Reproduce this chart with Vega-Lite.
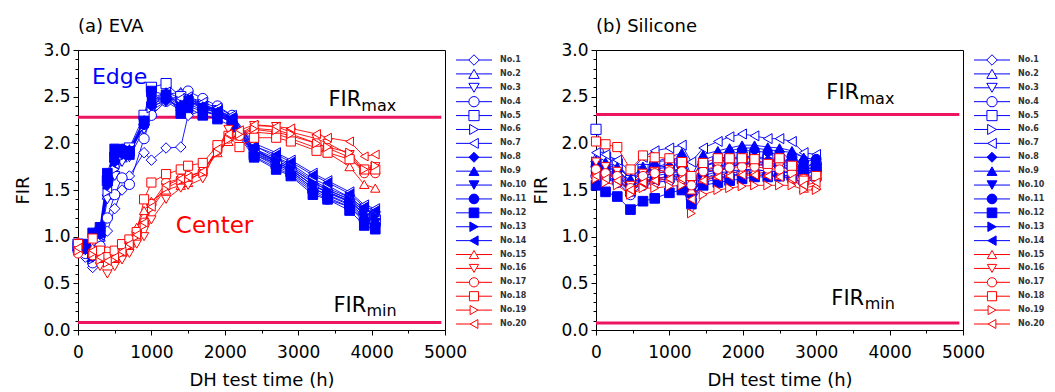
{
"$schema": "https://vega.github.io/schema/vega-lite/v6.json",
"background": "white",
"padding": {"left": 14, "top": 17, "right": 5, "bottom": 0},
"bounds": "flush",
"spacing": 11,
"config": {"font": "DejaVu Sans", "view": {"stroke": "black", "strokeWidth": 1}, "axis": {"grid": false, "domainColor": "black", "tickColor": "black", "labelColor": "black", "titleColor": "black", "titleFontWeight": "normal", "labelFlush": false, "labelOverlap": false}},
"datasets": {
"lima": [{"v": 2.28}, {"v": 0.08}],
"limb": [{"v": 2.31}, {"v": 0.075}],
"leg": [{"s":1,"lab":"No.1"},{"s":2,"lab":"No.2"},{"s":3,"lab":"No.3"},{"s":4,"lab":"No.4"},{"s":5,"lab":"No.5"},{"s":6,"lab":"No.6"},{"s":7,"lab":"No.7"},{"s":8,"lab":"No.8"},{"s":9,"lab":"No.9"},{"s":10,"lab":"No.10"},{"s":11,"lab":"No.11"},{"s":12,"lab":"No.12"},{"s":13,"lab":"No.13"},{"s":14,"lab":"No.14"},{"s":15,"lab":"No.15"},{"s":16,"lab":"No.16"},{"s":17,"lab":"No.17"},{"s":18,"lab":"No.18"},{"s":19,"lab":"No.19"},{"s":20,"lab":"No.20"}],
"a": [
{"s":1,"t":0,"v":0.85},{"s":1,"t":100,"v":0.78},{"s":1,"t":200,"v":0.67},{"s":1,"t":300,"v":0.85},{"s":1,"t":400,"v":1.06},{"s":1,"t":500,"v":1.3},{"s":1,"t":600,"v":1.5},{"s":1,"t":700,"v":1.65},{"s":1,"t":900,"v":1.9},{"s":1,"t":1000,"v":1.82},{"s":1,"t":1200,"v":1.95},{"s":1,"t":1400,"v":1.96},{"s":1,"t":1500,"v":2.3},{"s":1,"t":1700,"v":2.35},{"s":1,"t":1900,"v":2.3},{"s":1,"t":2100,"v":2.22},{"s":1,"t":2400,"v":1.9},{"s":1,"t":2700,"v":1.8},{"s":1,"t":2900,"v":1.72},{"s":1,"t":3200,"v":1.55},{"s":1,"t":3400,"v":1.48},{"s":1,"t":3700,"v":1.38},{"s":1,"t":3900,"v":1.25},{"s":1,"t":4050,"v":1.2},
{"s":2,"t":0,"v":0.9},{"s":2,"t":100,"v":0.88},{"s":2,"t":200,"v":0.78},{"s":2,"t":300,"v":1.0},{"s":2,"t":400,"v":1.45},{"s":2,"t":500,"v":1.7},{"s":2,"t":600,"v":1.85},{"s":2,"t":700,"v":1.92},{"s":2,"t":900,"v":2.25},{"s":2,"t":1000,"v":2.4},{"s":2,"t":1200,"v":2.52},{"s":2,"t":1400,"v":2.55},{"s":2,"t":1500,"v":2.5},{"s":2,"t":1700,"v":2.42},{"s":2,"t":1900,"v":2.36},{"s":2,"t":2100,"v":2.28},{"s":2,"t":2400,"v":1.98},{"s":2,"t":2700,"v":1.85},{"s":2,"t":2900,"v":1.78},{"s":2,"t":3200,"v":1.62},{"s":2,"t":3400,"v":1.55},{"s":2,"t":3700,"v":1.42},{"s":2,"t":3900,"v":1.3},{"s":2,"t":4050,"v":1.25},
{"s":3,"t":0,"v":0.88},{"s":3,"t":100,"v":0.85},{"s":3,"t":200,"v":0.75},{"s":3,"t":300,"v":0.95},{"s":3,"t":400,"v":1.4},{"s":3,"t":500,"v":1.65},{"s":3,"t":600,"v":1.8},{"s":3,"t":700,"v":1.85},{"s":3,"t":900,"v":2.15},{"s":3,"t":1000,"v":2.35},{"s":3,"t":1200,"v":2.45},{"s":3,"t":1400,"v":2.4},{"s":3,"t":1500,"v":2.45},{"s":3,"t":1700,"v":2.4},{"s":3,"t":1900,"v":2.32},{"s":3,"t":2100,"v":2.25},{"s":3,"t":2400,"v":1.92},{"s":3,"t":2700,"v":1.82},{"s":3,"t":2900,"v":1.74},{"s":3,"t":3200,"v":1.58},{"s":3,"t":3400,"v":1.5},{"s":3,"t":3700,"v":1.4},{"s":3,"t":3900,"v":1.28},{"s":3,"t":4050,"v":1.22},
{"s":4,"t":0,"v":0.85},{"s":4,"t":100,"v":0.82},{"s":4,"t":200,"v":0.72},{"s":4,"t":300,"v":0.9},{"s":4,"t":400,"v":1.2},{"s":4,"t":500,"v":1.45},{"s":4,"t":600,"v":1.63},{"s":4,"t":700,"v":1.56},{"s":4,"t":900,"v":2.05},{"s":4,"t":1000,"v":2.3},{"s":4,"t":1200,"v":2.45},{"s":4,"t":1400,"v":2.52},{"s":4,"t":1500,"v":2.56},{"s":4,"t":1700,"v":2.48},{"s":4,"t":1900,"v":2.4},{"s":4,"t":2100,"v":2.3},{"s":4,"t":2400,"v":1.95},{"s":4,"t":2700,"v":1.8},{"s":4,"t":2900,"v":1.72},{"s":4,"t":3200,"v":1.55},{"s":4,"t":3400,"v":1.48},{"s":4,"t":3700,"v":1.38},{"s":4,"t":3900,"v":1.25},{"s":4,"t":4050,"v":1.2},
{"s":5,"t":0,"v":0.92},{"s":5,"t":100,"v":0.9},{"s":5,"t":200,"v":0.82},{"s":5,"t":300,"v":1.05},{"s":5,"t":400,"v":1.6},{"s":5,"t":500,"v":1.85},{"s":5,"t":600,"v":1.92},{"s":5,"t":700,"v":1.95},{"s":5,"t":900,"v":2.3},{"s":5,"t":1000,"v":2.6},{"s":5,"t":1200,"v":2.64},{"s":5,"t":1400,"v":2.5},{"s":5,"t":1500,"v":2.45},{"s":5,"t":1700,"v":2.4},{"s":5,"t":1900,"v":2.35},{"s":5,"t":2100,"v":2.25},{"s":5,"t":2400,"v":1.88},{"s":5,"t":2700,"v":1.78},{"s":5,"t":2900,"v":1.7},{"s":5,"t":3200,"v":1.52},{"s":5,"t":3400,"v":1.45},{"s":5,"t":3700,"v":1.35},{"s":5,"t":3900,"v":1.22},{"s":5,"t":4050,"v":1.18},
{"s":6,"t":0,"v":0.87},{"s":6,"t":100,"v":0.86},{"s":6,"t":200,"v":0.76},{"s":6,"t":300,"v":0.98},{"s":6,"t":400,"v":1.48},{"s":6,"t":500,"v":1.72},{"s":6,"t":600,"v":1.86},{"s":6,"t":700,"v":1.9},{"s":6,"t":900,"v":2.18},{"s":6,"t":1000,"v":2.38},{"s":6,"t":1200,"v":2.48},{"s":6,"t":1400,"v":2.45},{"s":6,"t":1500,"v":2.48},{"s":6,"t":1700,"v":2.42},{"s":6,"t":1900,"v":2.35},{"s":6,"t":2100,"v":2.27},{"s":6,"t":2400,"v":1.94},{"s":6,"t":2700,"v":1.84},{"s":6,"t":2900,"v":1.76},{"s":6,"t":3200,"v":1.6},{"s":6,"t":3400,"v":1.52},{"s":6,"t":3700,"v":1.42},{"s":6,"t":3900,"v":1.3},{"s":6,"t":4050,"v":1.25},
{"s":7,"t":0,"v":0.9},{"s":7,"t":100,"v":0.88},{"s":7,"t":200,"v":0.8},{"s":7,"t":300,"v":1.02},{"s":7,"t":400,"v":1.52},{"s":7,"t":500,"v":1.78},{"s":7,"t":600,"v":1.88},{"s":7,"t":700,"v":1.92},{"s":7,"t":900,"v":2.22},{"s":7,"t":1000,"v":2.45},{"s":7,"t":1200,"v":2.55},{"s":7,"t":1400,"v":2.48},{"s":7,"t":1500,"v":2.5},{"s":7,"t":1700,"v":2.44},{"s":7,"t":1900,"v":2.38},{"s":7,"t":2100,"v":2.3},{"s":7,"t":2400,"v":2.0},{"s":7,"t":2700,"v":1.9},{"s":7,"t":2900,"v":1.82},{"s":7,"t":3200,"v":1.68},{"s":7,"t":3400,"v":1.6},{"s":7,"t":3700,"v":1.48},{"s":7,"t":3900,"v":1.34},{"s":7,"t":4050,"v":1.3},
{"s":8,"t":0,"v":0.88},{"s":8,"t":100,"v":0.86},{"s":8,"t":200,"v":0.78},{"s":8,"t":300,"v":1.02},{"s":8,"t":400,"v":1.55},{"s":8,"t":500,"v":1.8},{"s":8,"t":600,"v":1.88},{"s":8,"t":700,"v":1.9},{"s":8,"t":900,"v":2.2},{"s":8,"t":1000,"v":2.4},{"s":8,"t":1200,"v":2.45},{"s":8,"t":1400,"v":2.35},{"s":8,"t":1500,"v":2.42},{"s":8,"t":1700,"v":2.36},{"s":8,"t":1900,"v":2.3},{"s":8,"t":2100,"v":2.22},{"s":8,"t":2400,"v":1.88},{"s":8,"t":2700,"v":1.76},{"s":8,"t":2900,"v":1.68},{"s":8,"t":3200,"v":1.5},{"s":8,"t":3400,"v":1.42},{"s":8,"t":3700,"v":1.32},{"s":8,"t":3900,"v":1.18},{"s":8,"t":4050,"v":1.14},
{"s":9,"t":0,"v":0.9},{"s":9,"t":100,"v":0.9},{"s":9,"t":200,"v":0.82},{"s":9,"t":300,"v":1.08},{"s":9,"t":400,"v":1.62},{"s":9,"t":500,"v":1.86},{"s":9,"t":600,"v":1.92},{"s":9,"t":700,"v":1.94},{"s":9,"t":900,"v":2.25},{"s":9,"t":1000,"v":2.48},{"s":9,"t":1200,"v":2.55},{"s":9,"t":1400,"v":2.42},{"s":9,"t":1500,"v":2.48},{"s":9,"t":1700,"v":2.4},{"s":9,"t":1900,"v":2.34},{"s":9,"t":2100,"v":2.26},{"s":9,"t":2400,"v":1.92},{"s":9,"t":2700,"v":1.8},{"s":9,"t":2900,"v":1.72},{"s":9,"t":3200,"v":1.55},{"s":9,"t":3400,"v":1.47},{"s":9,"t":3700,"v":1.37},{"s":9,"t":3900,"v":1.24},{"s":9,"t":4050,"v":1.18},
{"s":10,"t":0,"v":0.86},{"s":10,"t":100,"v":0.88},{"s":10,"t":200,"v":0.8},{"s":10,"t":300,"v":1.04},{"s":10,"t":400,"v":1.58},{"s":10,"t":500,"v":1.82},{"s":10,"t":600,"v":1.9},{"s":10,"t":700,"v":1.92},{"s":10,"t":900,"v":2.22},{"s":10,"t":1000,"v":2.46},{"s":10,"t":1200,"v":2.5},{"s":10,"t":1400,"v":2.36},{"s":10,"t":1500,"v":2.4},{"s":10,"t":1700,"v":2.34},{"s":10,"t":1900,"v":2.3},{"s":10,"t":2100,"v":2.24},{"s":10,"t":2400,"v":1.9},{"s":10,"t":2700,"v":1.78},{"s":10,"t":2900,"v":1.7},{"s":10,"t":3200,"v":1.52},{"s":10,"t":3400,"v":1.44},{"s":10,"t":3700,"v":1.34},{"s":10,"t":3900,"v":1.2},{"s":10,"t":4050,"v":1.15},
{"s":11,"t":0,"v":0.88},{"s":11,"t":100,"v":0.9},{"s":11,"t":200,"v":0.84},{"s":11,"t":300,"v":1.06},{"s":11,"t":400,"v":1.6},{"s":11,"t":500,"v":1.88},{"s":11,"t":600,"v":1.94},{"s":11,"t":700,"v":1.88},{"s":11,"t":900,"v":2.2},{"s":11,"t":1000,"v":2.42},{"s":11,"t":1200,"v":2.48},{"s":11,"t":1400,"v":2.38},{"s":11,"t":1500,"v":2.44},{"s":11,"t":1700,"v":2.38},{"s":11,"t":1900,"v":2.32},{"s":11,"t":2100,"v":2.22},{"s":11,"t":2400,"v":1.86},{"s":11,"t":2700,"v":1.74},{"s":11,"t":2900,"v":1.66},{"s":11,"t":3200,"v":1.48},{"s":11,"t":3400,"v":1.4},{"s":11,"t":3700,"v":1.32},{"s":11,"t":3900,"v":1.16},{"s":11,"t":4050,"v":1.12},
{"s":12,"t":0,"v":0.9},{"s":12,"t":100,"v":0.92},{"s":12,"t":200,"v":1.04},{"s":12,"t":300,"v":1.1},{"s":12,"t":400,"v":1.68},{"s":12,"t":500,"v":1.94},{"s":12,"t":600,"v":1.92},{"s":12,"t":700,"v":1.88},{"s":12,"t":900,"v":2.24},{"s":12,"t":1000,"v":2.56},{"s":12,"t":1200,"v":2.52},{"s":12,"t":1400,"v":2.32},{"s":12,"t":1500,"v":2.38},{"s":12,"t":1700,"v":2.3},{"s":12,"t":1900,"v":2.26},{"s":12,"t":2100,"v":2.18},{"s":12,"t":2400,"v":1.85},{"s":12,"t":2700,"v":1.72},{"s":12,"t":2900,"v":1.65},{"s":12,"t":3200,"v":1.45},{"s":12,"t":3400,"v":1.4},{"s":12,"t":3700,"v":1.28},{"s":12,"t":3900,"v":1.12},{"s":12,"t":4050,"v":1.08},
{"s":13,"t":0,"v":0.87},{"s":13,"t":100,"v":0.86},{"s":13,"t":200,"v":0.78},{"s":13,"t":300,"v":1.02},{"s":13,"t":400,"v":1.56},{"s":13,"t":500,"v":1.8},{"s":13,"t":600,"v":1.9},{"s":13,"t":700,"v":1.92},{"s":13,"t":900,"v":2.2},{"s":13,"t":1000,"v":2.44},{"s":13,"t":1200,"v":2.5},{"s":13,"t":1400,"v":2.4},{"s":13,"t":1500,"v":2.46},{"s":13,"t":1700,"v":2.38},{"s":13,"t":1900,"v":2.33},{"s":13,"t":2100,"v":2.25},{"s":13,"t":2400,"v":1.93},{"s":13,"t":2700,"v":1.82},{"s":13,"t":2900,"v":1.74},{"s":13,"t":3200,"v":1.58},{"s":13,"t":3400,"v":1.5},{"s":13,"t":3700,"v":1.4},{"s":13,"t":3900,"v":1.27},{"s":13,"t":4050,"v":1.22},
{"s":14,"t":0,"v":0.89},{"s":14,"t":100,"v":0.88},{"s":14,"t":200,"v":0.8},{"s":14,"t":300,"v":1.04},{"s":14,"t":400,"v":1.58},{"s":14,"t":500,"v":1.82},{"s":14,"t":600,"v":1.9},{"s":14,"t":700,"v":1.92},{"s":14,"t":900,"v":2.22},{"s":14,"t":1000,"v":2.46},{"s":14,"t":1200,"v":2.52},{"s":14,"t":1400,"v":2.42},{"s":14,"t":1500,"v":2.48},{"s":14,"t":1700,"v":2.4},{"s":14,"t":1900,"v":2.35},{"s":14,"t":2100,"v":2.28},{"s":14,"t":2400,"v":1.97},{"s":14,"t":2700,"v":1.88},{"s":14,"t":2900,"v":1.8},{"s":14,"t":3200,"v":1.66},{"s":14,"t":3400,"v":1.58},{"s":14,"t":3700,"v":1.46},{"s":14,"t":3900,"v":1.32},{"s":14,"t":4050,"v":1.28},
{"s":15,"t":0,"v":0.95},{"s":15,"t":200,"v":0.88},{"s":15,"t":300,"v":0.8},{"s":15,"t":400,"v":0.76},{"s":15,"t":500,"v":0.78},{"s":15,"t":600,"v":0.85},{"s":15,"t":700,"v":0.95},{"s":15,"t":800,"v":1.1},{"s":15,"t":900,"v":1.28},{"s":15,"t":1000,"v":1.38},{"s":15,"t":1200,"v":1.5},{"s":15,"t":1400,"v":1.55},{"s":15,"t":1500,"v":1.58},{"s":15,"t":1700,"v":1.72},{"s":15,"t":1900,"v":1.9},{"s":15,"t":2050,"v":2.02},{"s":15,"t":2200,"v":2.08},{"s":15,"t":2400,"v":2.12},{"s":15,"t":2700,"v":2.1},{"s":15,"t":2900,"v":2.05},{"s":15,"t":3250,"v":1.95},{"s":15,"t":3400,"v":1.9},{"s":15,"t":3700,"v":1.75},{"s":15,"t":3900,"v":1.56},{"s":15,"t":4050,"v":1.52},
{"s":16,"t":0,"v":0.9},{"s":16,"t":200,"v":0.8},{"s":16,"t":300,"v":0.68},{"s":16,"t":400,"v":0.6},{"s":16,"t":500,"v":0.68},{"s":16,"t":600,"v":0.75},{"s":16,"t":700,"v":0.82},{"s":16,"t":800,"v":0.92},{"s":16,"t":900,"v":1.0},{"s":16,"t":1000,"v":1.18},{"s":16,"t":1200,"v":1.4},{"s":16,"t":1400,"v":1.52},{"s":16,"t":1500,"v":1.55},{"s":16,"t":1700,"v":1.62},{"s":16,"t":1900,"v":1.95},{"s":16,"t":2050,"v":2.15},{"s":16,"t":2200,"v":2.1},{"s":16,"t":2400,"v":2.19},{"s":16,"t":2700,"v":2.18},{"s":16,"t":2900,"v":2.12},{"s":16,"t":3250,"v":2.05},{"s":16,"t":3400,"v":2.0},{"s":16,"t":3700,"v":1.88},{"s":16,"t":3900,"v":1.7},{"s":16,"t":4050,"v":1.75},
{"s":17,"t":0,"v":0.82},{"s":17,"t":200,"v":0.8},{"s":17,"t":300,"v":0.78},{"s":17,"t":400,"v":0.84},{"s":17,"t":500,"v":0.8},{"s":17,"t":600,"v":0.85},{"s":17,"t":700,"v":0.92},{"s":17,"t":800,"v":1.05},{"s":17,"t":900,"v":1.15},{"s":17,"t":1000,"v":1.35},{"s":17,"t":1200,"v":1.58},{"s":17,"t":1400,"v":1.62},{"s":17,"t":1500,"v":1.65},{"s":17,"t":1700,"v":1.7},{"s":17,"t":1900,"v":1.92},{"s":17,"t":2050,"v":2.05},{"s":17,"t":2200,"v":2.08},{"s":17,"t":2400,"v":2.15},{"s":17,"t":2700,"v":2.12},{"s":17,"t":2900,"v":2.08},{"s":17,"t":3250,"v":2.0},{"s":17,"t":3400,"v":1.95},{"s":17,"t":3700,"v":1.85},{"s":17,"t":3900,"v":1.68},{"s":17,"t":4050,"v":1.68},
{"s":18,"t":0,"v":0.92},{"s":18,"t":200,"v":0.98},{"s":18,"t":300,"v":0.85},{"s":18,"t":400,"v":0.78},{"s":18,"t":500,"v":0.85},{"s":18,"t":600,"v":0.92},{"s":18,"t":700,"v":0.97},{"s":18,"t":800,"v":1.05},{"s":18,"t":900,"v":1.4},{"s":18,"t":1000,"v":1.58},{"s":18,"t":1200,"v":1.67},{"s":18,"t":1400,"v":1.72},{"s":18,"t":1500,"v":1.76},{"s":18,"t":1700,"v":1.79},{"s":18,"t":1900,"v":1.98},{"s":18,"t":2050,"v":2.08},{"s":18,"t":2200,"v":1.96},{"s":18,"t":2400,"v":2.06},{"s":18,"t":2700,"v":2.06},{"s":18,"t":2900,"v":2.02},{"s":18,"t":3250,"v":1.92},{"s":18,"t":3400,"v":1.9},{"s":18,"t":3700,"v":1.83},{"s":18,"t":3900,"v":1.72},{"s":18,"t":4050,"v":1.72},
{"s":19,"t":0,"v":0.85},{"s":19,"t":200,"v":0.82},{"s":19,"t":300,"v":0.75},{"s":19,"t":400,"v":0.72},{"s":19,"t":500,"v":0.76},{"s":19,"t":600,"v":0.82},{"s":19,"t":700,"v":0.9},{"s":19,"t":800,"v":1.0},{"s":19,"t":900,"v":1.12},{"s":19,"t":1000,"v":1.3},{"s":19,"t":1200,"v":1.52},{"s":19,"t":1400,"v":1.6},{"s":19,"t":1500,"v":1.62},{"s":19,"t":1700,"v":1.68},{"s":19,"t":1900,"v":1.9},{"s":19,"t":2050,"v":2.04},{"s":19,"t":2200,"v":2.1},{"s":19,"t":2400,"v":2.16},{"s":19,"t":2700,"v":2.14},{"s":19,"t":2900,"v":2.1},{"s":19,"t":3250,"v":2.0},{"s":19,"t":3400,"v":1.96},{"s":19,"t":3700,"v":1.9},{"s":19,"t":3900,"v":1.72},{"s":19,"t":4050,"v":1.76},
{"s":20,"t":0,"v":0.88},{"s":20,"t":200,"v":0.85},{"s":20,"t":300,"v":0.78},{"s":20,"t":400,"v":0.74},{"s":20,"t":500,"v":0.78},{"s":20,"t":600,"v":0.84},{"s":20,"t":700,"v":0.92},{"s":20,"t":800,"v":1.02},{"s":20,"t":900,"v":1.15},{"s":20,"t":1000,"v":1.32},{"s":20,"t":1200,"v":1.55},{"s":20,"t":1400,"v":1.62},{"s":20,"t":1500,"v":1.64},{"s":20,"t":1700,"v":1.7},{"s":20,"t":1900,"v":1.94},{"s":20,"t":2050,"v":2.1},{"s":20,"t":2200,"v":2.14},{"s":20,"t":2400,"v":2.2},{"s":20,"t":2700,"v":2.18},{"s":20,"t":2900,"v":2.16},{"s":20,"t":3250,"v":2.1},{"s":20,"t":3400,"v":2.06},{"s":20,"t":3700,"v":2.02},{"s":20,"t":3900,"v":1.86},{"s":20,"t":4050,"v":1.88}
],
"b": [
{"s":1,"t":0,"v":1.75},{"s":1,"t":130,"v":1.72},{"s":1,"t":290,"v":1.65},{"s":1,"t":470,"v":1.55},{"s":1,"t":640,"v":1.65},{"s":1,"t":800,"v":1.68},{"s":1,"t":1000,"v":1.7},{"s":1,"t":1170,"v":1.72},{"s":1,"t":1300,"v":1.55},{"s":1,"t":1460,"v":1.68},{"s":1,"t":1660,"v":1.72},{"s":1,"t":1820,"v":1.75},{"s":1,"t":1990,"v":1.78},{"s":1,"t":2160,"v":1.78},{"s":1,"t":2340,"v":1.76},{"s":1,"t":2500,"v":1.75},{"s":1,"t":2670,"v":1.72},{"s":1,"t":2830,"v":1.68},{"s":1,"t":3000,"v":1.7},
{"s":2,"t":0,"v":1.85},{"s":2,"t":130,"v":1.82},{"s":2,"t":290,"v":1.78},{"s":2,"t":470,"v":1.62},{"s":2,"t":640,"v":1.75},{"s":2,"t":800,"v":1.8},{"s":2,"t":1000,"v":1.82},{"s":2,"t":1170,"v":1.85},{"s":2,"t":1300,"v":1.62},{"s":2,"t":1460,"v":1.82},{"s":2,"t":1660,"v":1.88},{"s":2,"t":1820,"v":1.92},{"s":2,"t":1990,"v":1.95},{"s":2,"t":2160,"v":1.95},{"s":2,"t":2340,"v":1.93},{"s":2,"t":2500,"v":1.92},{"s":2,"t":2670,"v":1.9},{"s":2,"t":2830,"v":1.85},{"s":2,"t":3000,"v":1.82},
{"s":3,"t":0,"v":1.7},{"s":3,"t":130,"v":1.68},{"s":3,"t":290,"v":1.62},{"s":3,"t":470,"v":1.5},{"s":3,"t":640,"v":1.6},{"s":3,"t":800,"v":1.62},{"s":3,"t":1000,"v":1.64},{"s":3,"t":1170,"v":1.66},{"s":3,"t":1300,"v":1.45},{"s":3,"t":1460,"v":1.62},{"s":3,"t":1660,"v":1.68},{"s":3,"t":1820,"v":1.7},{"s":3,"t":1990,"v":1.72},{"s":3,"t":2160,"v":1.72},{"s":3,"t":2340,"v":1.7},{"s":3,"t":2500,"v":1.7},{"s":3,"t":2670,"v":1.68},{"s":3,"t":2830,"v":1.62},{"s":3,"t":3000,"v":1.65},
{"s":4,"t":0,"v":1.65},{"s":4,"t":130,"v":1.62},{"s":4,"t":290,"v":1.58},{"s":4,"t":470,"v":1.45},{"s":4,"t":640,"v":1.55},{"s":4,"t":800,"v":1.58},{"s":4,"t":1000,"v":1.6},{"s":4,"t":1170,"v":1.62},{"s":4,"t":1300,"v":1.4},{"s":4,"t":1460,"v":1.58},{"s":4,"t":1660,"v":1.62},{"s":4,"t":1820,"v":1.65},{"s":4,"t":1990,"v":1.68},{"s":4,"t":2160,"v":1.68},{"s":4,"t":2340,"v":1.66},{"s":4,"t":2500,"v":1.65},{"s":4,"t":2670,"v":1.62},{"s":4,"t":2830,"v":1.58},{"s":4,"t":3000,"v":1.62},
{"s":5,"t":0,"v":2.15},{"s":5,"t":130,"v":1.85},{"s":5,"t":290,"v":1.78},{"s":5,"t":470,"v":1.6},{"s":5,"t":640,"v":1.72},{"s":5,"t":800,"v":1.75},{"s":5,"t":1000,"v":1.78},{"s":5,"t":1170,"v":1.8},{"s":5,"t":1300,"v":1.58},{"s":5,"t":1460,"v":1.76},{"s":5,"t":1660,"v":1.8},{"s":5,"t":1820,"v":1.82},{"s":5,"t":1990,"v":1.85},{"s":5,"t":2160,"v":1.85},{"s":5,"t":2340,"v":1.82},{"s":5,"t":2500,"v":1.8},{"s":5,"t":2670,"v":1.78},{"s":5,"t":2830,"v":1.72},{"s":5,"t":3000,"v":1.75},
{"s":6,"t":0,"v":1.8},{"s":6,"t":130,"v":1.78},{"s":6,"t":290,"v":1.72},{"s":6,"t":470,"v":1.58},{"s":6,"t":640,"v":1.7},{"s":6,"t":800,"v":1.74},{"s":6,"t":1000,"v":1.76},{"s":6,"t":1170,"v":1.78},{"s":6,"t":1300,"v":1.52},{"s":6,"t":1460,"v":1.75},{"s":6,"t":1660,"v":1.8},{"s":6,"t":1820,"v":1.84},{"s":6,"t":1990,"v":1.86},{"s":6,"t":2160,"v":1.86},{"s":6,"t":2340,"v":1.84},{"s":6,"t":2500,"v":1.82},{"s":6,"t":2670,"v":1.8},{"s":6,"t":2830,"v":1.75},{"s":6,"t":3000,"v":1.78},
{"s":7,"t":0,"v":1.9},{"s":7,"t":130,"v":1.88},{"s":7,"t":290,"v":1.82},{"s":7,"t":470,"v":1.7},{"s":7,"t":640,"v":1.85},{"s":7,"t":800,"v":1.92},{"s":7,"t":1000,"v":1.95},{"s":7,"t":1170,"v":1.98},{"s":7,"t":1300,"v":1.8},{"s":7,"t":1460,"v":1.95},{"s":7,"t":1660,"v":2.02},{"s":7,"t":1820,"v":2.07},{"s":7,"t":1990,"v":2.1},{"s":7,"t":2160,"v":2.08},{"s":7,"t":2340,"v":2.05},{"s":7,"t":2500,"v":2.05},{"s":7,"t":2670,"v":2.02},{"s":7,"t":2830,"v":1.9},{"s":7,"t":3000,"v":1.88},
{"s":8,"t":0,"v":1.78},{"s":8,"t":130,"v":1.75},{"s":8,"t":290,"v":1.7},{"s":8,"t":470,"v":1.58},{"s":8,"t":640,"v":1.7},{"s":8,"t":800,"v":1.72},{"s":8,"t":1000,"v":1.75},{"s":8,"t":1170,"v":1.78},{"s":8,"t":1300,"v":1.55},{"s":8,"t":1460,"v":1.75},{"s":8,"t":1660,"v":1.82},{"s":8,"t":1820,"v":1.88},{"s":8,"t":1990,"v":1.92},{"s":8,"t":2160,"v":1.92},{"s":8,"t":2340,"v":1.9},{"s":8,"t":2500,"v":1.88},{"s":8,"t":2670,"v":1.85},{"s":8,"t":2830,"v":1.75},{"s":8,"t":3000,"v":1.78},
{"s":9,"t":0,"v":1.82},{"s":9,"t":130,"v":1.8},{"s":9,"t":290,"v":1.75},{"s":9,"t":470,"v":1.62},{"s":9,"t":640,"v":1.75},{"s":9,"t":800,"v":1.8},{"s":9,"t":1000,"v":1.85},{"s":9,"t":1170,"v":1.9},{"s":9,"t":1300,"v":1.65},{"s":9,"t":1460,"v":1.88},{"s":9,"t":1660,"v":1.92},{"s":9,"t":1820,"v":1.95},{"s":9,"t":1990,"v":1.98},{"s":9,"t":2160,"v":1.98},{"s":9,"t":2340,"v":1.96},{"s":9,"t":2500,"v":1.95},{"s":9,"t":2670,"v":1.92},{"s":9,"t":2830,"v":1.85},{"s":9,"t":3000,"v":1.82},
{"s":10,"t":0,"v":1.72},{"s":10,"t":130,"v":1.7},{"s":10,"t":290,"v":1.65},{"s":10,"t":470,"v":1.52},{"s":10,"t":640,"v":1.62},{"s":10,"t":800,"v":1.65},{"s":10,"t":1000,"v":1.68},{"s":10,"t":1170,"v":1.7},{"s":10,"t":1300,"v":1.42},{"s":10,"t":1460,"v":1.68},{"s":10,"t":1660,"v":1.72},{"s":10,"t":1820,"v":1.75},{"s":10,"t":1990,"v":1.78},{"s":10,"t":2160,"v":1.78},{"s":10,"t":2340,"v":1.76},{"s":10,"t":2500,"v":1.75},{"s":10,"t":2670,"v":1.72},{"s":10,"t":2830,"v":1.7},{"s":10,"t":3000,"v":1.72},
{"s":11,"t":0,"v":1.7},{"s":11,"t":130,"v":1.68},{"s":11,"t":290,"v":1.62},{"s":11,"t":470,"v":1.48},{"s":11,"t":640,"v":1.58},{"s":11,"t":800,"v":1.62},{"s":11,"t":1000,"v":1.65},{"s":11,"t":1170,"v":1.68},{"s":11,"t":1300,"v":1.45},{"s":11,"t":1460,"v":1.65},{"s":11,"t":1660,"v":1.7},{"s":11,"t":1820,"v":1.74},{"s":11,"t":1990,"v":1.78},{"s":11,"t":2160,"v":1.8},{"s":11,"t":2340,"v":1.8},{"s":11,"t":2500,"v":1.82},{"s":11,"t":2670,"v":1.82},{"s":11,"t":2830,"v":1.8},{"s":11,"t":3000,"v":1.83},
{"s":12,"t":0,"v":1.55},{"s":12,"t":130,"v":1.48},{"s":12,"t":290,"v":1.43},{"s":12,"t":470,"v":1.29},{"s":12,"t":640,"v":1.38},{"s":12,"t":800,"v":1.41},{"s":12,"t":1000,"v":1.47},{"s":12,"t":1170,"v":1.5},{"s":12,"t":1300,"v":1.35},{"s":12,"t":1460,"v":1.55},{"s":12,"t":1660,"v":1.58},{"s":12,"t":1820,"v":1.6},{"s":12,"t":1990,"v":1.62},{"s":12,"t":2160,"v":1.64},{"s":12,"t":2340,"v":1.64},{"s":12,"t":2500,"v":1.65},{"s":12,"t":2670,"v":1.66},{"s":12,"t":2830,"v":1.68},{"s":12,"t":3000,"v":1.7},
{"s":13,"t":0,"v":1.75},{"s":13,"t":130,"v":1.72},{"s":13,"t":290,"v":1.68},{"s":13,"t":470,"v":1.55},{"s":13,"t":640,"v":1.65},{"s":13,"t":800,"v":1.68},{"s":13,"t":1000,"v":1.7},{"s":13,"t":1170,"v":1.72},{"s":13,"t":1300,"v":1.5},{"s":13,"t":1460,"v":1.7},{"s":13,"t":1660,"v":1.75},{"s":13,"t":1820,"v":1.78},{"s":13,"t":1990,"v":1.8},{"s":13,"t":2160,"v":1.8},{"s":13,"t":2340,"v":1.78},{"s":13,"t":2500,"v":1.78},{"s":13,"t":2670,"v":1.75},{"s":13,"t":2830,"v":1.72},{"s":13,"t":3000,"v":1.74},
{"s":14,"t":0,"v":1.68},{"s":14,"t":130,"v":1.65},{"s":14,"t":290,"v":1.6},{"s":14,"t":470,"v":1.48},{"s":14,"t":640,"v":1.58},{"s":14,"t":800,"v":1.6},{"s":14,"t":1000,"v":1.62},{"s":14,"t":1170,"v":1.64},{"s":14,"t":1300,"v":1.35},{"s":14,"t":1460,"v":1.6},{"s":14,"t":1660,"v":1.65},{"s":14,"t":1820,"v":1.68},{"s":14,"t":1990,"v":1.7},{"s":14,"t":2160,"v":1.72},{"s":14,"t":2340,"v":1.7},{"s":14,"t":2500,"v":1.7},{"s":14,"t":2670,"v":1.68},{"s":14,"t":2830,"v":1.64},{"s":14,"t":3000,"v":1.66},
{"s":15,"t":0,"v":1.7},{"s":15,"t":130,"v":1.68},{"s":15,"t":290,"v":1.62},{"s":15,"t":470,"v":1.5},{"s":15,"t":640,"v":1.6},{"s":15,"t":800,"v":1.62},{"s":15,"t":1000,"v":1.64},{"s":15,"t":1170,"v":1.65},{"s":15,"t":1300,"v":1.5},{"s":15,"t":1460,"v":1.62},{"s":15,"t":1660,"v":1.66},{"s":15,"t":1820,"v":1.68},{"s":15,"t":1990,"v":1.7},{"s":15,"t":2160,"v":1.7},{"s":15,"t":2340,"v":1.68},{"s":15,"t":2500,"v":1.66},{"s":15,"t":2670,"v":1.62},{"s":15,"t":2830,"v":1.52},{"s":15,"t":3000,"v":1.55},
{"s":16,"t":0,"v":1.8},{"s":16,"t":130,"v":1.75},{"s":16,"t":290,"v":1.7},{"s":16,"t":470,"v":1.55},{"s":16,"t":640,"v":1.68},{"s":16,"t":800,"v":1.7},{"s":16,"t":1000,"v":1.72},{"s":16,"t":1170,"v":1.72},{"s":16,"t":1300,"v":1.58},{"s":16,"t":1460,"v":1.72},{"s":16,"t":1660,"v":1.75},{"s":16,"t":1820,"v":1.76},{"s":16,"t":1990,"v":1.78},{"s":16,"t":2160,"v":1.78},{"s":16,"t":2340,"v":1.76},{"s":16,"t":2500,"v":1.75},{"s":16,"t":2670,"v":1.72},{"s":16,"t":2830,"v":1.62},{"s":16,"t":3000,"v":1.6},
{"s":17,"t":0,"v":1.72},{"s":17,"t":130,"v":1.68},{"s":17,"t":290,"v":1.65},{"s":17,"t":470,"v":1.52},{"s":17,"t":640,"v":1.65},{"s":17,"t":800,"v":1.68},{"s":17,"t":1000,"v":1.7},{"s":17,"t":1170,"v":1.7},{"s":17,"t":1300,"v":1.55},{"s":17,"t":1460,"v":1.7},{"s":17,"t":1660,"v":1.72},{"s":17,"t":1820,"v":1.74},{"s":17,"t":1990,"v":1.75},{"s":17,"t":2160,"v":1.75},{"s":17,"t":2340,"v":1.73},{"s":17,"t":2500,"v":1.72},{"s":17,"t":2670,"v":1.68},{"s":17,"t":2830,"v":1.62},{"s":17,"t":3000,"v":1.65},
{"s":18,"t":0,"v":2.02},{"s":18,"t":130,"v":1.99},{"s":18,"t":290,"v":1.96},{"s":18,"t":470,"v":1.72},{"s":18,"t":640,"v":1.87},{"s":18,"t":800,"v":1.85},{"s":18,"t":1000,"v":1.84},{"s":18,"t":1170,"v":1.8},{"s":18,"t":1300,"v":1.65},{"s":18,"t":1460,"v":1.79},{"s":18,"t":1660,"v":1.84},{"s":18,"t":1820,"v":1.84},{"s":18,"t":1990,"v":1.84},{"s":18,"t":2160,"v":1.83},{"s":18,"t":2340,"v":1.78},{"s":18,"t":2500,"v":1.84},{"s":18,"t":2670,"v":1.76},{"s":18,"t":2830,"v":1.6},{"s":18,"t":3000,"v":1.65},
{"s":19,"t":0,"v":1.62},{"s":19,"t":130,"v":1.58},{"s":19,"t":290,"v":1.55},{"s":19,"t":470,"v":1.45},{"s":19,"t":640,"v":1.52},{"s":19,"t":800,"v":1.52},{"s":19,"t":1000,"v":1.54},{"s":19,"t":1170,"v":1.55},{"s":19,"t":1300,"v":1.25},{"s":19,"t":1460,"v":1.45},{"s":19,"t":1660,"v":1.5},{"s":19,"t":1820,"v":1.52},{"s":19,"t":1990,"v":1.54},{"s":19,"t":2160,"v":1.55},{"s":19,"t":2340,"v":1.55},{"s":19,"t":2500,"v":1.55},{"s":19,"t":2670,"v":1.55},{"s":19,"t":2830,"v":1.5},{"s":19,"t":3000,"v":1.5},
{"s":20,"t":0,"v":1.65},{"s":20,"t":130,"v":1.62},{"s":20,"t":290,"v":1.6},{"s":20,"t":470,"v":1.5},{"s":20,"t":640,"v":1.58},{"s":20,"t":800,"v":1.6},{"s":20,"t":1000,"v":1.62},{"s":20,"t":1170,"v":1.62},{"s":20,"t":1300,"v":1.4},{"s":20,"t":1460,"v":1.6},{"s":20,"t":1660,"v":1.64},{"s":20,"t":1820,"v":1.65},{"s":20,"t":1990,"v":1.66},{"s":20,"t":2160,"v":1.66},{"s":20,"t":2340,"v":1.65},{"s":20,"t":2500,"v":1.64},{"s":20,"t":2670,"v":1.62},{"s":20,"t":2830,"v":1.55},{"s":20,"t":3000,"v":1.58}
]
},
"hconcat": [
{
"width": 367, "height": 280,
"title": {"text": "(a) EVA", "anchor": "start", "frame": "group", "fontSize": 18, "fontWeight": "normal", "offset": 5, "color": "black"},
"resolve": {"axis": {"x": "independent", "y": "independent"}},
"layer": [
{"data": {"name": "lima"}, "mark": {"type": "rule", "color": "#ee1560", "strokeWidth": 3},
 "encoding": {
  "x": {"datum": 0, "type": "quantitative", "scale": {"domain": [0, 5000], "nice": false}, "axis": {"orient": "bottom", "values": [500, 1500, 2500, 3500, 4500], "labels": false, "domain": false, "tickSize": 3, "title": null}},
  "x2": {"datum": 4950},
  "y": {"field": "v", "type": "quantitative", "scale": {"domain": [0, 3], "nice": false}, "axis": {"orient": "left", "values": [0.1,0.2,0.3,0.4,0.6,0.7,0.8,0.9,1.1,1.2,1.3,1.4,1.6,1.7,1.8,1.9,2.1,2.2,2.3,2.4,2.6,2.7,2.8,2.9], "labels": false, "domain": false, "tickSize": 3, "title": null}}
 }},
{"data": {"name": "a"}, "mark": {"type": "line", "strokeWidth": 0.9},
 "encoding": {
  "x": {"field": "t", "type": "quantitative", "scale": {"domain": [0, 5000], "nice": false}, "axis": {"orient": "bottom", "values": [0,1000,2000,3000,4000,5000], "format": "d", "title": "DH test time (h)", "labelFontSize": 17, "titleFontSize": 18, "tickSize": 5, "labelPadding": 9, "titlePadding": 11}},
  "y": {"field": "v", "type": "quantitative", "scale": {"domain": [0, 3], "nice": false}, "axis": {"orient": "left", "values": [0,0.5,1,1.5,2,2.5,3], "format": ".1f", "title": "FIR", "labelFontSize": 17, "titleFontSize": 18, "tickSize": 5, "labelPadding": 3, "titlePadding": 10}},
  "detail": {"field": "s", "type": "nominal"},
  "stroke": {"field": "s", "type": "nominal", "legend": null, "scale": {"domain": [1,2,3,4,5,6,7,8,9,10,11,12,13,14,15,16,17,18,19,20], "range": ["#0000ff","#0000ff","#0000ff","#0000ff","#0000ff","#0000ff","#0000ff","#0000ff","#0000ff","#0000ff","#0000ff","#0000ff","#0000ff","#0000ff","#ff0000","#ff0000","#ff0000","#ff0000","#ff0000","#ff0000"]}}
 }},
{"data": {"name": "a"}, "mark": {"type": "point", "opacity": 1, "strokeWidth": 1},
 "encoding": {
  "x": {"field": "t", "type": "quantitative", "axis": null},
  "y": {"field": "v", "type": "quantitative", "axis": null},
  "shape": {"field": "s", "type": "nominal", "legend": null, "scale": {"domain": [1,2,3,4,5,6,7,8,9,10,11,12,13,14,15,16,17,18,19,20], "range": ["diamond","triangle-up","triangle-down","circle","square","triangle-right","triangle-left","diamond","triangle-up","triangle-down","circle","square","triangle-right","triangle-left","triangle-up","triangle-down","circle","square","triangle-right","triangle-left"]}},
  "size": {"field": "s", "type": "ordinal", "legend": null, "scale": {"domain": [1,2,3,4,5,6,7,8,9,10,11,12,13,14,15,16,17,18,19,20], "range": [110,80,80,120,120,80,80,90,60,60,130,130,60,60,80,80,120,120,80,80]}},
  "stroke": {"field": "s", "type": "nominal", "legend": null},
  "fill": {"field": "s", "type": "nominal", "legend": null, "scale": {"domain": [1,2,3,4,5,6,7,8,9,10,11,12,13,14,15,16,17,18,19,20], "range": ["white","white","white","white","white","white","white","#0000ff","#0000ff","#0000ff","#0000ff","#0000ff","#0000ff","#0000ff","white","white","white","white","white","white"]}}
 }},
{"data": {"values": [{}]}, "mark": {"type": "text", "text": "FIR", "align": "left", "baseline": "alphabetic", "fontSize": 21, "color": "black"},
 "encoding": {"x": {"datum": 3413, "type": "quantitative", "axis": null}, "y": {"datum": 2.4, "type": "quantitative", "axis": null}}},
{"data": {"values": [{}]}, "mark": {"type": "text", "text": "max", "align": "left", "baseline": "alphabetic", "fontSize": 16, "color": "black"},
 "encoding": {"x": {"datum": 3860, "type": "quantitative", "axis": null}, "y": {"datum": 2.35, "type": "quantitative", "axis": null}}},
{"data": {"values": [{}]}, "mark": {"type": "text", "text": "FIR", "align": "left", "baseline": "alphabetic", "fontSize": 21, "color": "black"},
 "encoding": {"x": {"datum": 3481, "type": "quantitative", "axis": null}, "y": {"datum": 0.19, "type": "quantitative", "axis": null}}},
{"data": {"values": [{}]}, "mark": {"type": "text", "text": "min", "align": "left", "baseline": "alphabetic", "fontSize": 16, "color": "black"},
 "encoding": {"x": {"datum": 3930, "type": "quantitative", "axis": null}, "y": {"datum": 0.155, "type": "quantitative", "axis": null}}},
{"data": {"values": [{}]}, "mark": {"type": "text", "text": "Edge", "align": "left", "baseline": "alphabetic", "fontSize": 22, "color": "#0000ff"},
 "encoding": {"x": {"datum": 190, "type": "quantitative", "axis": null}, "y": {"datum": 2.64, "type": "quantitative", "axis": null}}},
{"data": {"values": [{}]}, "mark": {"type": "text", "text": "Center", "align": "left", "baseline": "alphabetic", "fontSize": 23, "color": "#ff0000"},
 "encoding": {"x": {"datum": 1333, "type": "quantitative", "axis": null}, "y": {"datum": 1.04, "type": "quantitative", "axis": null}}}
]
},
{
"width": 129, "height": 280, "view": {"stroke": null},
"data": {"name": "leg"},
"encoding": {"y": {"field": "s", "type": "ordinal", "axis": null, "scale": {"type": "point", "padding": 0, "range": [10, 274], "domain": [1,2,3,4,5,6,7,8,9,10,11,12,13,14,15,16,17,18,19,20]}}},
"layer": [
{"mark": {"type": "rule", "strokeWidth": 1},
 "encoding": {
  "x": {"datum": 0, "type": "quantitative", "axis": null, "scale": {"domain": [0, 129], "nice": false}},
  "x2": {"datum": 36},
  "stroke": {"field": "s", "type": "nominal", "legend": null, "scale": {"domain": [1,2,3,4,5,6,7,8,9,10,11,12,13,14,15,16,17,18,19,20], "range": ["#0000ff","#0000ff","#0000ff","#0000ff","#0000ff","#0000ff","#0000ff","#0000ff","#0000ff","#0000ff","#0000ff","#0000ff","#0000ff","#0000ff","#ff0000","#ff0000","#ff0000","#ff0000","#ff0000","#ff0000"]}}
 }},
{"mark": {"type": "point", "opacity": 1, "strokeWidth": 1},
 "encoding": {
  "x": {"datum": 18, "type": "quantitative", "axis": null},
  "shape": {"field": "s", "type": "nominal", "legend": null, "scale": {"domain": [1,2,3,4,5,6,7,8,9,10,11,12,13,14,15,16,17,18,19,20], "range": ["diamond","triangle-up","triangle-down","circle","square","triangle-right","triangle-left","diamond","triangle-up","triangle-down","circle","square","triangle-right","triangle-left","triangle-up","triangle-down","circle","square","triangle-right","triangle-left"]}},
  "size": {"field": "s", "type": "ordinal", "legend": null, "scale": {"domain": [1,2,3,4,5,6,7,8,9,10,11,12,13,14,15,16,17,18,19,20], "range": [80,50,50,90,90,50,50,70,40,40,100,100,40,40,50,50,90,90,50,50]}},
  "stroke": {"field": "s", "type": "nominal", "legend": null},
  "fill": {"field": "s", "type": "nominal", "legend": null, "scale": {"domain": [1,2,3,4,5,6,7,8,9,10,11,12,13,14,15,16,17,18,19,20], "range": ["white","white","white","white","white","white","white","#0000ff","#0000ff","#0000ff","#0000ff","#0000ff","#0000ff","#0000ff","white","white","white","white","white","white"]}}
 }},
{"mark": {"type": "text", "align": "left", "baseline": "middle", "fontSize": 8, "fontWeight": "bold", "color": "#333333"},
 "encoding": {"x": {"datum": 44, "type": "quantitative", "axis": null}, "text": {"field": "lab"}}}
]
},
{
"width": 367, "height": 280,
"title": {"text": "(b) Silicone", "anchor": "start", "frame": "group", "fontSize": 18, "fontWeight": "normal", "offset": 5, "color": "black"},
"resolve": {"axis": {"x": "independent", "y": "independent"}},
"layer": [
{"data": {"name": "limb"}, "mark": {"type": "rule", "color": "#ee1560", "strokeWidth": 3},
 "encoding": {
  "x": {"datum": 0, "type": "quantitative", "scale": {"domain": [0, 5000], "nice": false}, "axis": {"orient": "bottom", "values": [500, 1500, 2500, 3500, 4500], "labels": false, "domain": false, "tickSize": 3, "title": null}},
  "x2": {"datum": 4950},
  "y": {"field": "v", "type": "quantitative", "scale": {"domain": [0, 3], "nice": false}, "axis": {"orient": "left", "values": [0.1,0.2,0.3,0.4,0.6,0.7,0.8,0.9,1.1,1.2,1.3,1.4,1.6,1.7,1.8,1.9,2.1,2.2,2.3,2.4,2.6,2.7,2.8,2.9], "labels": false, "domain": false, "tickSize": 3, "title": null}}
 }},
{"data": {"name": "b"}, "mark": {"type": "line", "strokeWidth": 0.9},
 "encoding": {
  "x": {"field": "t", "type": "quantitative", "scale": {"domain": [0, 5000], "nice": false}, "axis": {"orient": "bottom", "values": [0,1000,2000,3000,4000,5000], "format": "d", "title": "DH test time (h)", "labelFontSize": 17, "titleFontSize": 18, "tickSize": 5, "labelPadding": 9, "titlePadding": 11}},
  "y": {"field": "v", "type": "quantitative", "scale": {"domain": [0, 3], "nice": false}, "axis": {"orient": "left", "values": [0,0.5,1,1.5,2,2.5,3], "format": ".1f", "title": "FIR", "labelFontSize": 17, "titleFontSize": 18, "tickSize": 5, "labelPadding": 3, "titlePadding": 10}},
  "detail": {"field": "s", "type": "nominal"},
  "stroke": {"field": "s", "type": "nominal", "legend": null, "scale": {"domain": [1,2,3,4,5,6,7,8,9,10,11,12,13,14,15,16,17,18,19,20], "range": ["#0000ff","#0000ff","#0000ff","#0000ff","#0000ff","#0000ff","#0000ff","#0000ff","#0000ff","#0000ff","#0000ff","#0000ff","#0000ff","#0000ff","#ff0000","#ff0000","#ff0000","#ff0000","#ff0000","#ff0000"]}}
 }},
{"data": {"name": "b"}, "mark": {"type": "point", "opacity": 1, "strokeWidth": 1},
 "encoding": {
  "x": {"field": "t", "type": "quantitative", "axis": null},
  "y": {"field": "v", "type": "quantitative", "axis": null},
  "shape": {"field": "s", "type": "nominal", "legend": null, "scale": {"domain": [1,2,3,4,5,6,7,8,9,10,11,12,13,14,15,16,17,18,19,20], "range": ["diamond","triangle-up","triangle-down","circle","square","triangle-right","triangle-left","diamond","triangle-up","triangle-down","circle","square","triangle-right","triangle-left","triangle-up","triangle-down","circle","square","triangle-right","triangle-left"]}},
  "size": {"field": "s", "type": "ordinal", "legend": null, "scale": {"domain": [1,2,3,4,5,6,7,8,9,10,11,12,13,14,15,16,17,18,19,20], "range": [110,80,80,120,120,80,80,90,60,60,130,130,60,60,80,80,120,120,80,80]}},
  "stroke": {"field": "s", "type": "nominal", "legend": null},
  "fill": {"field": "s", "type": "nominal", "legend": null, "scale": {"domain": [1,2,3,4,5,6,7,8,9,10,11,12,13,14,15,16,17,18,19,20], "range": ["white","white","white","white","white","white","white","#0000ff","#0000ff","#0000ff","#0000ff","#0000ff","#0000ff","#0000ff","white","white","white","white","white","white"]}}
 }},
{"data": {"values": [{}]}, "mark": {"type": "text", "text": "FIR", "align": "left", "baseline": "alphabetic", "fontSize": 21, "color": "black"},
 "encoding": {"x": {"datum": 3138, "type": "quantitative", "axis": null}, "y": {"datum": 2.47, "type": "quantitative", "axis": null}}},
{"data": {"values": [{}]}, "mark": {"type": "text", "text": "max", "align": "left", "baseline": "alphabetic", "fontSize": 16, "color": "black"},
 "encoding": {"x": {"datum": 3590, "type": "quantitative", "axis": null}, "y": {"datum": 2.42, "type": "quantitative", "axis": null}}},
{"data": {"values": [{}]}, "mark": {"type": "text", "text": "FIR", "align": "left", "baseline": "alphabetic", "fontSize": 21, "color": "black"},
 "encoding": {"x": {"datum": 3206, "type": "quantitative", "axis": null}, "y": {"datum": 0.263, "type": "quantitative", "axis": null}}},
{"data": {"values": [{}]}, "mark": {"type": "text", "text": "min", "align": "left", "baseline": "alphabetic", "fontSize": 16, "color": "black"},
 "encoding": {"x": {"datum": 3660, "type": "quantitative", "axis": null}, "y": {"datum": 0.22, "type": "quantitative", "axis": null}}}
]
},
{
"width": 75, "height": 280, "view": {"stroke": null},
"data": {"name": "leg"},
"encoding": {"y": {"field": "s", "type": "ordinal", "axis": null, "scale": {"type": "point", "padding": 0, "range": [10, 274], "domain": [1,2,3,4,5,6,7,8,9,10,11,12,13,14,15,16,17,18,19,20]}}},
"layer": [
{"mark": {"type": "rule", "strokeWidth": 1},
 "encoding": {
  "x": {"datum": 0, "type": "quantitative", "axis": null, "scale": {"domain": [0, 75], "nice": false}},
  "x2": {"datum": 36},
  "stroke": {"field": "s", "type": "nominal", "legend": null, "scale": {"domain": [1,2,3,4,5,6,7,8,9,10,11,12,13,14,15,16,17,18,19,20], "range": ["#0000ff","#0000ff","#0000ff","#0000ff","#0000ff","#0000ff","#0000ff","#0000ff","#0000ff","#0000ff","#0000ff","#0000ff","#0000ff","#0000ff","#ff0000","#ff0000","#ff0000","#ff0000","#ff0000","#ff0000"]}}
 }},
{"mark": {"type": "point", "opacity": 1, "strokeWidth": 1},
 "encoding": {
  "x": {"datum": 18, "type": "quantitative", "axis": null},
  "shape": {"field": "s", "type": "nominal", "legend": null, "scale": {"domain": [1,2,3,4,5,6,7,8,9,10,11,12,13,14,15,16,17,18,19,20], "range": ["diamond","triangle-up","triangle-down","circle","square","triangle-right","triangle-left","diamond","triangle-up","triangle-down","circle","square","triangle-right","triangle-left","triangle-up","triangle-down","circle","square","triangle-right","triangle-left"]}},
  "size": {"field": "s", "type": "ordinal", "legend": null, "scale": {"domain": [1,2,3,4,5,6,7,8,9,10,11,12,13,14,15,16,17,18,19,20], "range": [80,50,50,90,90,50,50,70,40,40,100,100,40,40,50,50,90,90,50,50]}},
  "stroke": {"field": "s", "type": "nominal", "legend": null},
  "fill": {"field": "s", "type": "nominal", "legend": null, "scale": {"domain": [1,2,3,4,5,6,7,8,9,10,11,12,13,14,15,16,17,18,19,20], "range": ["white","white","white","white","white","white","white","#0000ff","#0000ff","#0000ff","#0000ff","#0000ff","#0000ff","#0000ff","white","white","white","white","white","white"]}}
 }},
{"mark": {"type": "text", "align": "left", "baseline": "middle", "fontSize": 8, "fontWeight": "bold", "color": "#333333"},
 "encoding": {"x": {"datum": 44, "type": "quantitative", "axis": null}, "text": {"field": "lab"}}}
]
}
]
}
